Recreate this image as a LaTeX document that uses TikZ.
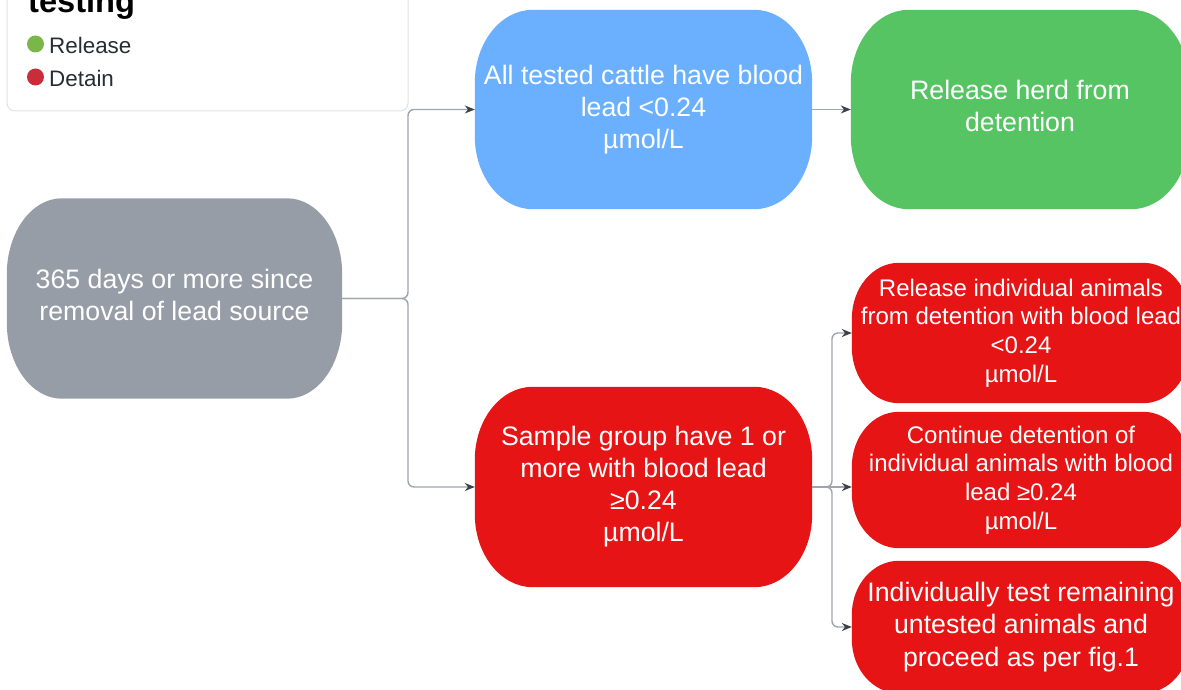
\documentclass[tikz,border=0pt]{standalone}
\usepackage{fontspec}
\setmainfont{Liberation Sans}
\usetikzlibrary{arrows.meta, backgrounds}

\definecolor{stepgray}{HTML}{979DA7}
\definecolor{stepblue}{HTML}{6BB0FF}
\definecolor{stepgreen}{HTML}{57C464}
\definecolor{stepred}{HTML}{E61414}
\definecolor{dotgreen}{HTML}{7AB648}
\definecolor{dotred}{HTML}{C92D39}
\definecolor{linegray}{HTML}{A0A5AD}
\definecolor{tipgray}{HTML}{3A414A}
\definecolor{framegray}{HTML}{DFE2E7}
\definecolor{legtext}{HTML}{282C33}

% vulvorm achter een node: #1 node, #2 kleur, #3 x-straal, #4 y-straal
\newcommand\pillshape[4]{%
    \fill[#2] ([xshift=#3]#1.north west) -- ([xshift=-#3]#1.north east)
        arc[start angle=90, end angle=0, x radius=#3, y radius=#4]
        -- ([yshift=#4]#1.south east)
        arc[start angle=0, end angle=-90, x radius=#3, y radius=#4]
        -- ([xshift=#3]#1.south west)
        arc[start angle=270, end angle=180, x radius=#3, y radius=#4]
        -- ([yshift=-#4]#1.north west)
        arc[start angle=180, end angle=90, x radius=#3, y radius=#4] -- cycle;}

\begin{document}
\begin{tikzpicture}[x=1pt, y=-1pt,
    box/.style={draw=none, text=white, align=center, inner sep=0pt,
        minimum width=337pt, minimum height=200pt,
        font=\fontsize{26.7}{32}\selectfont},
    smallbox/.style={box, minimum width=338pt,
        font=\fontsize{24}{28.7}\selectfont},
    legdot/.style={circle, inner sep=0pt, minimum size=17pt},
    legitem/.style={anchor=base west, inner sep=0pt, text=legtext,
        font=\fontsize{22.4}{26}\selectfont},
    conn/.style={draw=linegray, line width=1.4pt, rounded corners=6pt,
        -{Stealth[length=10pt, width=8pt, color=tipgray]}}]
    \useasboundingbox (0,0) rectangle (1181,690);
    \clip (0,0) rectangle (1181,690);

    % legende
    \draw[framegray, line width=1pt, rounded corners=8pt] (7,-20) rectangle (408,111);
    \node[anchor=base west, inner sep=0pt, text=black, font=\bfseries\fontsize{32.6}{38}\selectfont] (legtitle) at (28,13) {testing};
    \node[legdot, fill=dotgreen] (dotrel) at (35.5,44) {};
    \node[legitem] (legrel) at (49,54) {Release};
    \node[legdot, fill=dotred] (dotdet) at (35.5,77) {};
    \node[legitem] (legdet) at (49,87) {Detain};

    % stappen
    \node[box, minimum width=335pt, text depth=8pt] (start) at (174.5,298.5)
        {365 days or more since\\removal of lead source};
    \node[box, minimum height=199pt] (allclear) at (643.5,109.5)
        {All tested cattle have blood\\lead <0.24\\µmol/L};
    \node[box, minimum width=338pt, minimum height=199pt, text depth=8pt] (releaseherd) at (1020,109.5)
        {Release herd from\\detention};
    \node[box] (somehigh) at (643.5,487)
        {Sample group have 1 or\\more with blood lead\\≥0.24\\µmol/L};

    % individuele dieren
    \node[smallbox, minimum height=140pt] (releaseind) at (1021,333)
        {Release individual animals\\from detention with blood lead\\<0.24\\µmol/L};
    \node[smallbox, minimum height=136pt] (keepind) at (1021,480)
        {Continue detention of\\individual animals with blood\\lead ≥0.24\\µmol/L};
    \node[smallbox, minimum height=132pt,
        font=\fontsize{26.7}{32.5}\selectfont] (testrest) at (1021,627)
        {Individually test remaining\\untested animals and\\proceed as per fig.1};

    \begin{scope}[on background layer]
        \pillshape{start}{stepgray}{55pt}{76pt}
        \pillshape{allclear}{stepblue}{58pt}{73pt}
        \pillshape{releaseherd}{stepgreen}{58pt}{73pt}
        \pillshape{somehigh}{stepred}{58pt}{73pt}
        \pillshape{releaseind}{stepred}{47pt}{56pt}
        \pillshape{keepind}{stepred}{47pt}{55pt}
        \pillshape{testrest}{stepred}{47pt}{54pt}
    \end{scope}

    % verbindingen
    \coordinate (split1) at (408,298.5);
    \coordinate (split2) at (832,487);
    \draw[conn] (start.east) -- (split1) |- (allclear.west);
    \draw[conn] (start.east) -- (split1) |- (somehigh.west);
    \draw[conn] (allclear.east) -- (releaseherd.west);
    \draw[conn] (somehigh.east) -- (split2) |- (releaseind.west);
    \draw[conn] (somehigh.east) -- (keepind.west |- somehigh.east);
    \draw[conn] (somehigh.east) -- (split2) |- (testrest.west);
\end{tikzpicture}
\end{document}
